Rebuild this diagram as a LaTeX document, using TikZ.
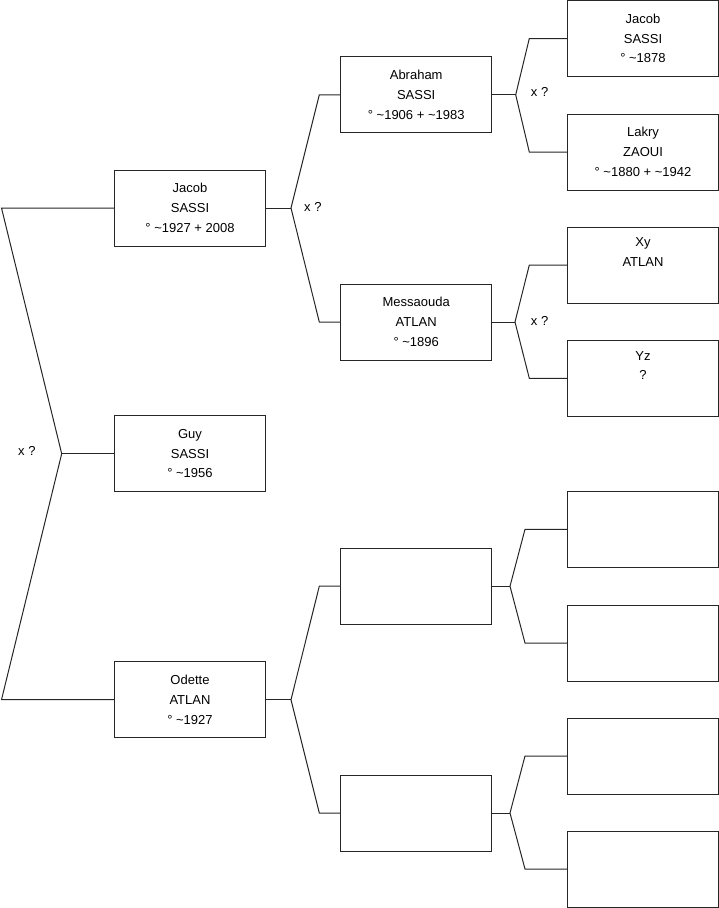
\documentclass[tikz,border=0pt]{standalone}
\usepackage{fontspec}
\setmainfont{Liberation Sans}
\newcommand{\tld}{\textasciitilde}
\begin{document}
\begin{tikzpicture}[x=1pt,y=-1pt,
  person/.style={draw=black!85, line width=1pt, minimum width=151pt, minimum height=76pt,
    inner sep=0pt, align=center, font=\fontsize{13}{19.7}\selectfont},
  link/.style={draw=black!85, line width=1pt},
  unionlabel/.style={anchor=west, inner sep=0pt, font=\fontsize{13}{15}\selectfont}]
\useasboundingbox (0,0) rectangle (719,908);
% column 1
\node[person] (jacob1) at (190,208) {Jacob\\SASSI\\° \tld1927 + 2008};
\node[person] (guy) at (190,453.7) {Guy\\SASSI\\° \tld1956};
\node[person] (odette) at (190,699.7) {Odette\\ATLAN\\° \tld1927};
% column 2
\node[person] (abraham) at (416.2,94.8) {Abraham\\SASSI\\° \tld1906 + \tld1983};
\node[person] (messaouda) at (416.2,322) {Messaouda\\ATLAN\\° \tld1896};
\node[person] (empA) at (416.2,586.2) {};
\node[person] (empB) at (416.2,813) {};
% column 3
\node[person] (jacob0) at (643,38.5) {Jacob\\SASSI\\° \tld1878};
\node[person] (lakry) at (643,152) {Lakry\\ZAOUI\\° \tld1880 + \tld1942};
\node[person] (xy) at (643,265) {Xy\\ATLAN\\\strut};
\node[person] (yz) at (643,378.3) {Yz\\?\\\strut};
\node[person] (empC) at (643,529.3) {};
\node[person] (empD) at (643,643) {};
\node[person] (empE) at (643,756) {};
\node[person] (empF) at (643,869) {};
% forks
\coordinate (f0) at (61.7,453.7);
\coordinate (f0a) at (1.5,208);
\coordinate (f0b) at (1.5,699.7);
\draw[link] (jacob1.west) -- (f0a) -- (f0) -- (f0b) -- (odette.west);
\draw[link] (f0) -- (guy.west);
\node[unionlabel] (u0) at (18,450.5) {x ?};

\coordinate (f1) at (291,208);
\coordinate (f1a) at (319.3,94.8);
\coordinate (f1b) at (319.3,322);
\draw[link] (jacob1.east) -- (f1);
\draw[link] (abraham.west) -- (f1a) -- (f1) -- (f1b) -- (messaouda.west);
\node[unionlabel] (u1) at (304,207) {x ?};

\coordinate (f2) at (291,699.7);
\coordinate (f2a) at (319.3,586.2);
\coordinate (f2b) at (319.3,813);
\draw[link] (odette.east) -- (f2);
\draw[link] (empA.west) -- (f2a) -- (f2) -- (f2b) -- (empB.west);

\coordinate (f3) at (515.7,94.8);
\coordinate (f3a) at (529.3,38.5);
\coordinate (f3b) at (529.3,152);
\draw[link] (abraham.east) -- (f3);
\draw[link] (jacob0.west) -- (f3a) -- (f3) -- (f3b) -- (lakry.west);
\node[unionlabel] (u3) at (530.7,92) {x ?};

\coordinate (f4) at (515,322);
\coordinate (f4a) at (529.3,265);
\coordinate (f4b) at (529.3,378.3);
\draw[link] (messaouda.east) -- (f4);
\draw[link] (xy.west) -- (f4a) -- (f4) -- (f4b) -- (yz.west);
\node[unionlabel] (u4) at (530.7,320.5) {x ?};

\coordinate (f5) at (510,586.2);
\coordinate (f5a) at (525,529.3);
\coordinate (f5b) at (525,643);
\draw[link] (empA.east) -- (f5);
\draw[link] (empC.west) -- (f5a) -- (f5) -- (f5b) -- (empD.west);

\coordinate (f6) at (510,813);
\coordinate (f6a) at (525,756);
\coordinate (f6b) at (525,869);
\draw[link] (empB.east) -- (f6);
\draw[link] (empE.west) -- (f6a) -- (f6) -- (f6b) -- (empF.west);
\end{tikzpicture}
\end{document}
